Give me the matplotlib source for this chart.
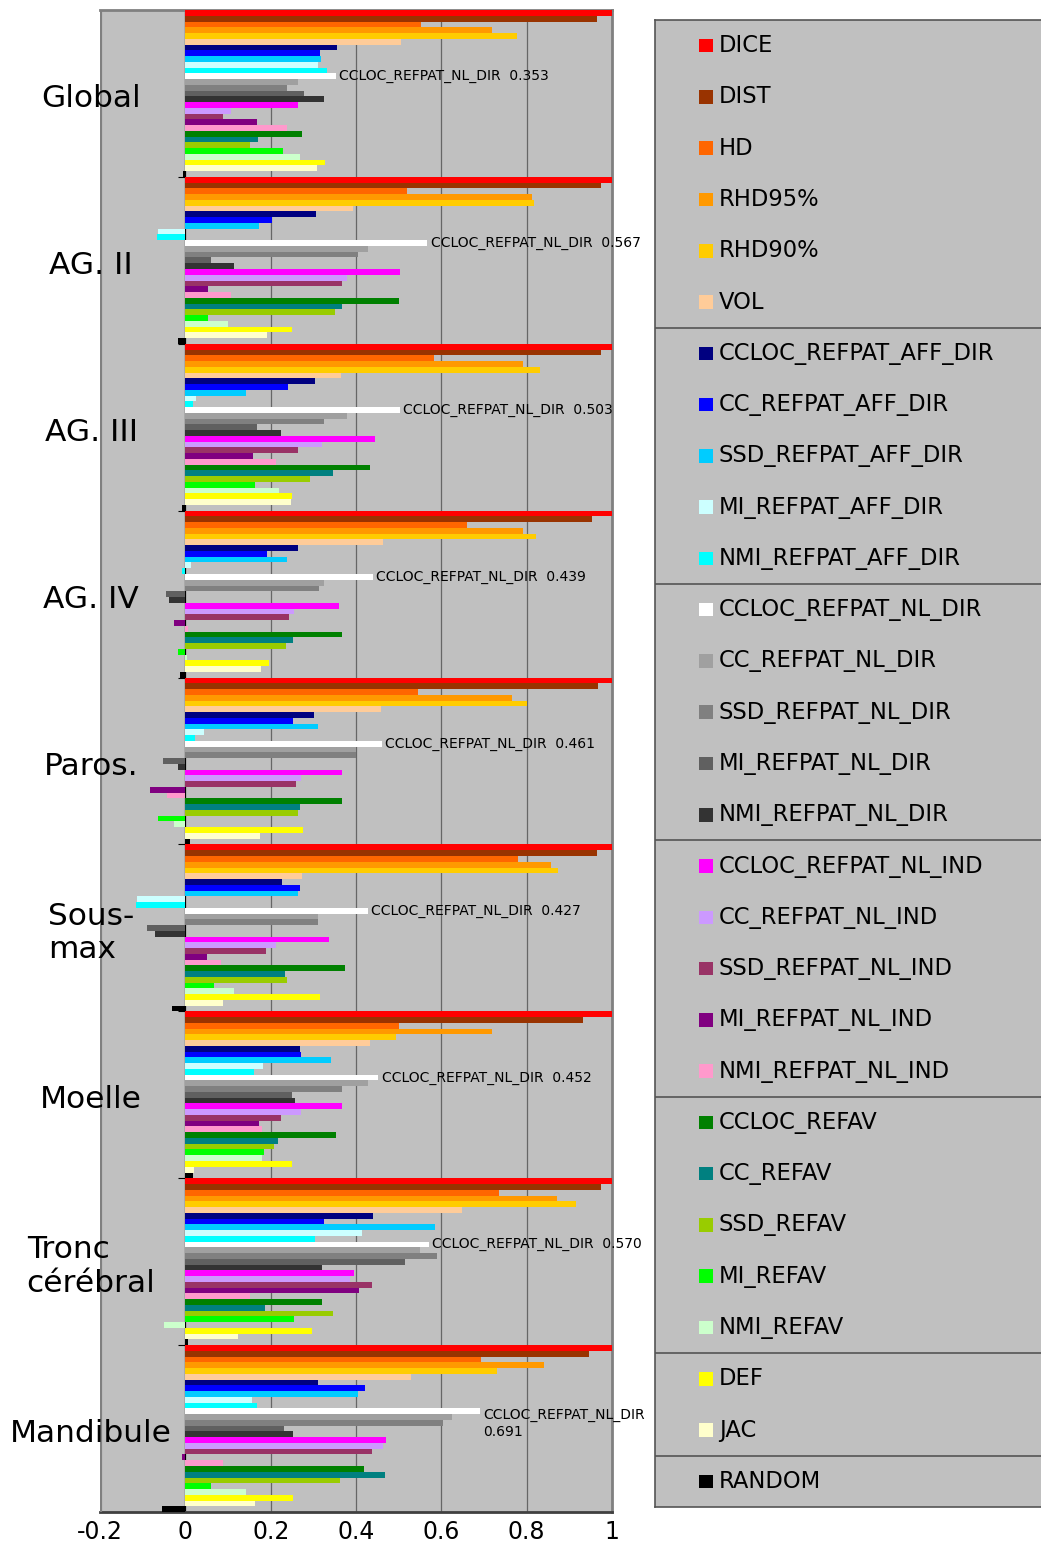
import numpy as np
import matplotlib.pyplot as plt

plt.rcParams['axes.unicode_minus'] = False

groups = ['Global', 'AG. II', 'AG. III', 'AG. IV', 'Paros.', 'Sous-\nmax',
          'Moelle', 'Tronc\ncérébral', 'Mandibule']

series = ['DICE', 'DIST', 'HD', 'RHD95%', 'RHD90%', 'VOL',
          'CCLOC_REFPAT_AFF_DIR', 'CC_REFPAT_AFF_DIR', 'SSD_REFPAT_AFF_DIR',
          'MI_REFPAT_AFF_DIR', 'NMI_REFPAT_AFF_DIR',
          'CCLOC_REFPAT_NL_DIR', 'CC_REFPAT_NL_DIR', 'SSD_REFPAT_NL_DIR',
          'MI_REFPAT_NL_DIR', 'NMI_REFPAT_NL_DIR',
          'CCLOC_REFPAT_NL_IND', 'CC_REFPAT_NL_IND', 'SSD_REFPAT_NL_IND',
          'MI_REFPAT_NL_IND', 'NMI_REFPAT_NL_IND',
          'CCLOC_REFAV', 'CC_REFAV', 'SSD_REFAV', 'MI_REFAV', 'NMI_REFAV',
          'DEF', 'JAC', 'RANDOM']

colors = ['#ff0000', '#993300', '#ff6600', '#ff9900', '#ffcc00', '#ffcc99',
          '#000080', '#0000ff', '#00ccff', '#ccffff', '#00ffff',
          '#ffffff', '#a0a0a0', '#808080', '#606060', '#333333',
          '#ff00ff', '#cc99ff', '#993366', '#800080', '#ff99cc',
          '#008000', '#008080', '#99cc00', '#00ff00', '#ccffcc',
          '#ffff00', '#ffffcc', '#000000']

# one list per structure, same order as `series`
global_vals = [1.0, 0.964, 0.552, 0.718, 0.777, 0.506,
               0.356, 0.316, 0.318, 0.310, 0.331,
               0.353, 0.264, 0.238, 0.278, 0.326,
               0.265, 0.107, 0.088, 0.167, 0.238,
               0.274, 0.170, 0.151, 0.228, 0.269,
               0.328, 0.308, -0.005]
ag2_vals = [1.0, 0.975, 0.519, 0.812, 0.816, 0.393,
            0.306, 0.203, 0.173, -0.063, -0.067,
            0.567, 0.428, 0.405, 0.061, 0.114,
            0.504, 0.380, 0.368, 0.054, 0.106,
            0.500, 0.368, 0.350, 0.052, 0.100,
            0.249, 0.191, -0.017]
ag3_vals = [1.0, 0.975, 0.582, 0.791, 0.831, 0.364,
            0.304, 0.241, 0.142, 0.025, 0.018,
            0.503, 0.378, 0.326, 0.167, 0.224,
            0.445, 0.320, 0.265, 0.159, 0.213,
            0.433, 0.347, 0.293, 0.163, 0.219,
            0.249, 0.247, -0.007]
ag4_vals = [1.0, 0.954, 0.661, 0.792, 0.822, 0.464,
            0.265, 0.192, 0.239, 0.013, -0.007,
            0.439, 0.324, 0.314, -0.046, -0.039,
            0.360, 0.255, 0.243, -0.027, 0.005,
            0.368, 0.252, 0.237, -0.017, 0.003,
            0.196, 0.178, -0.013]
paros_vals = [1.0, 0.967, 0.546, 0.766, 0.801, 0.459,
              0.301, 0.252, 0.310, 0.043, 0.022,
              0.461, 0.400, 0.400, -0.052, -0.018,
              0.366, 0.270, 0.260, -0.082, -0.044,
              0.368, 0.268, 0.265, -0.065, -0.027,
              0.276, 0.176, 0.012]
sousmax_vals = [1.0, 0.964, 0.780, 0.858, 0.874, 0.274,
                0.227, 0.269, 0.265, -0.113, -0.115,
                0.427, 0.311, 0.311, -0.090, -0.071,
                0.336, 0.213, 0.188, 0.050, 0.084,
                0.375, 0.234, 0.238, 0.067, 0.114,
                0.316, 0.088, -0.031]
moelle_vals = [1.0, 0.933, 0.500, 0.718, 0.494, 0.433,
               0.269, 0.271, 0.341, 0.182, 0.161,
               0.452, 0.427, 0.367, 0.249, 0.258,
               0.368, 0.270, 0.223, 0.173, 0.180,
               0.353, 0.216, 0.207, 0.184, 0.180,
               0.251, 0.021, 0.017]
tronc_vals = [1.0, 0.975, 0.735, 0.872, 0.915, 0.649,
              0.439, 0.324, 0.586, 0.414, 0.303,
              0.570, 0.550, 0.590, 0.515, 0.320,
              0.396, 0.385, 0.437, 0.406, 0.151,
              0.321, 0.186, 0.347, 0.255, -0.050,
              0.297, 0.124, 0.006]
mandibule_vals = [1.0, 0.946, 0.693, 0.841, 0.730, 0.529,
                  0.311, 0.422, 0.405, 0.156, 0.168,
                  0.691, 0.626, 0.605, 0.232, 0.252,
                  0.470, 0.464, 0.437, -0.008, 0.088,
                  0.419, 0.469, 0.362, 0.059, 0.143,
                  0.253, 0.163, -0.054]

values = [global_vals, ag2_vals, ag3_vals, ag4_vals, paros_vals,
          sousmax_vals, moelle_vals, tronc_vals, mandibule_vals]

xticks = [-0.2, 0, 0.2, 0.4, 0.6, 0.8, 1]
xtick_labels = ['-0.2', '0', '0.2', '0.4', '0.6', '0.8', '1']

n_g = len(groups)
n_s = len(series)
bar_h = 1.0 / n_s
highlight = series.index('CCLOC_REFPAT_NL_DIR')

fig = plt.figure(figsize=(10.41, 15.44), dpi=100)
ax = fig.add_axes([0.0961, 0.0207, 0.4918, 0.9728])
ax.set_facecolor('#c0c0c0')

for i, (name, col) in enumerate(zip(series, colors)):
    ys = [g + (i + 0.5) * bar_h for g in range(n_g)]
    xs = [v[i] for v in values]
    ax.barh(ys, xs, height=bar_h, color=col, linewidth=0, zorder=3)

# value label next to the white bar of every group
for g, v in enumerate(values):
    val = v[highlight]
    y = g + (highlight + 0.5) * bar_h
    if val > 0.6:
        ax.text(val + 0.008, y - 0.6 * bar_h, f'{series[highlight]}\n{val:.3f}',
                va='top', ha='left', fontsize=10, linespacing=1.3, zorder=5)
    else:
        ax.text(val + 0.008, y, f'{series[highlight]}  {val:.3f}',
                va='center', ha='left', fontsize=10, zorder=5)

for g, name in enumerate(groups):
    ax.text(-0.221, g + 0.53, name, ha='center', va='center',
            multialignment='left', fontsize=22.5, zorder=6, clip_on=False)

ax.set_xlim(-0.2, 1)
ax.set_ylim(n_g, 0)
ax.set_xticks(xticks)
ax.set_xticklabels(xtick_labels, fontsize=17)
ax.tick_params(axis='x', length=0, pad=6)
ax.set_yticks(range(n_g + 1))
ax.set_yticklabels([])
ax.tick_params(axis='y', length=5, direction='out', color='black')
ax.grid(axis='x', color='#666666', linewidth=0.9, zorder=1)

ax.spines['left'].set_position(('data', 0))
ax.spines['left'].set_color('black')
ax.spines['left'].set_zorder(2)
for s in ['top', 'right']:
    ax.spines[s].set_color('#808080')
    ax.spines[s].set_linewidth(2)
ax.spines['bottom'].set_color('#404040')
ax.spines['bottom'].set_linewidth(2)
ax.axvline(-0.2, color='#808080', linewidth=3, zorder=4)

# legend box with separators between families
lax = fig.add_axes([655 / 1041, 1 - 1507 / 1544, 400 / 1041, 1487 / 1544])
lax.set_facecolor('#c0c0c0')
lax.set_xlim(0, 1)
lax.set_ylim(n_s, 0)
lax.set_xticks([])
lax.set_yticks([])
for s in lax.spines.values():
    s.set_color('#555555')
    s.set_linewidth(1.2)
for i, (name, col) in enumerate(zip(series, colors)):
    lax.scatter(0.127, i + 0.5, marker='s', s=95, color=col, edgecolors='none')
    lax.text(0.16, i + 0.5, name, va='center', ha='left', fontsize=16.3)
for y in [6, 11, 16, 21, 26, 28]:
    lax.axhline(y, color='#555555', linewidth=1.2)

fig.savefig('out.png', dpi=100)
